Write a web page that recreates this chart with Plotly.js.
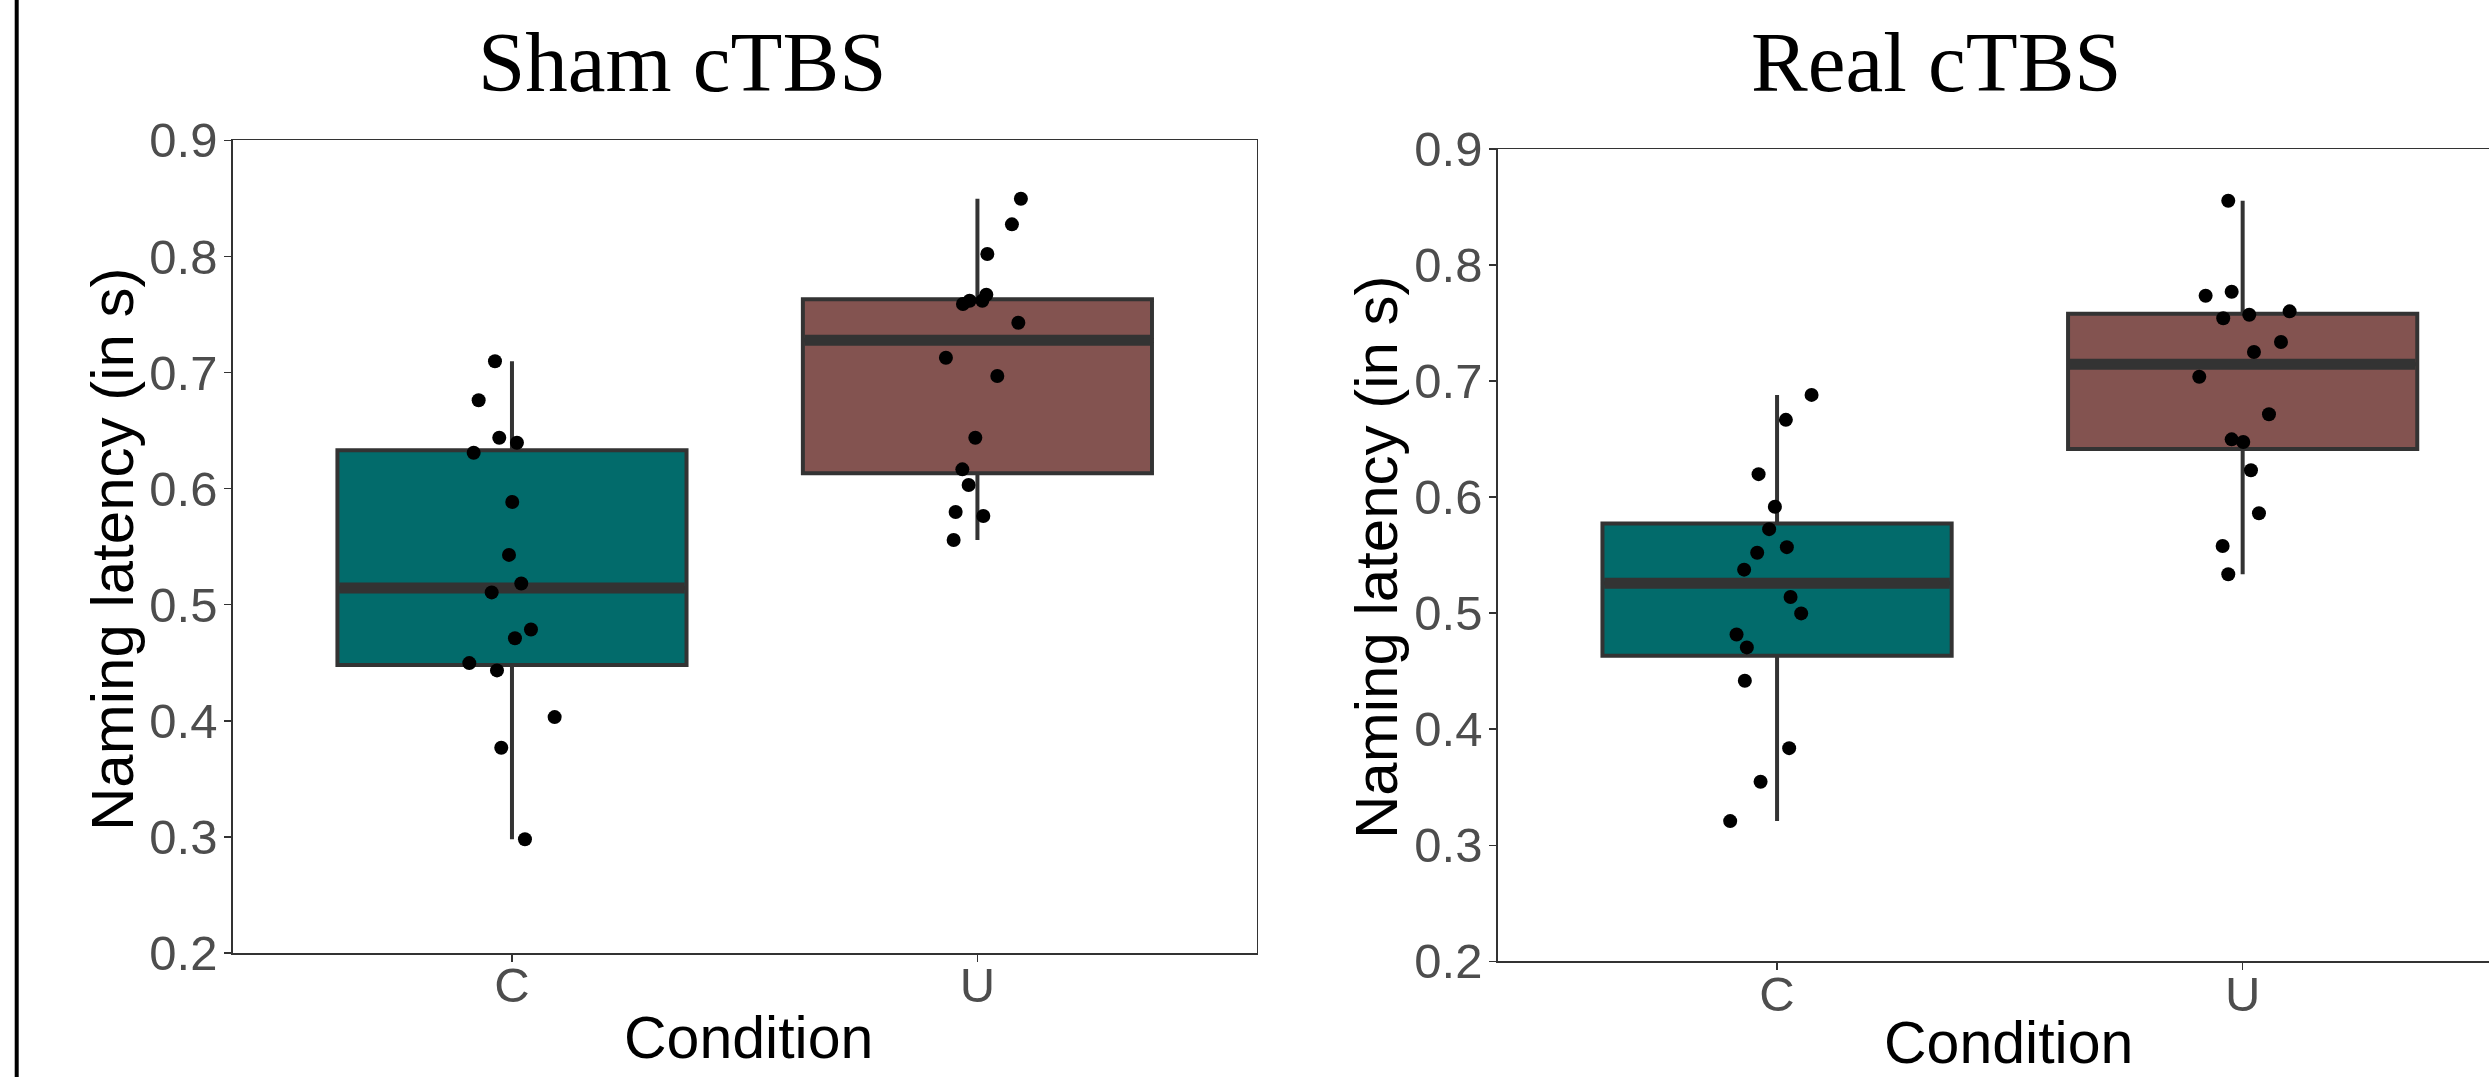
<!DOCTYPE html>
<html>
<head>
<meta charset="utf-8">
<script src="https://cdn.plot.ly/plotly-3.0.1.min.js"></script>
<style>
html,body{margin:0;padding:0;background:#fff;}
#chart{width:2489px;height:1077px;}
</style>
</head>
<body>
<div id="chart"></div>
<script>
// ---- data ----
const categories = ['C', 'U'];
const panelTitles = ['Sham cTBS', 'Real cTBS'];
const yTicks = [0.2, 0.3, 0.4, 0.5, 0.6, 0.7, 0.8, 0.9];

const shamC = [0.7097,0.6761,0.6438,0.6395,0.6309,0.5885,0.5429,0.5182,0.5106,0.4786,0.4711,0.4497,0.4434,0.4032,0.3768,0.2980];
const shamCJitter = [-0.0365,-0.0716,-0.0273,0.0107,-0.0823,0.0006,-0.0064,0.0200,-0.0436,0.0408,0.0064,-0.0917,-0.0322,0.0917,-0.0230,0.0279];
const shamU = [0.8497,0.8276,0.8021,0.7670,0.7618,0.7618,0.7590,0.7429,0.7127,0.6970,0.6438,0.6166,0.6031,0.5798,0.5764,0.5557];
const shamUJitter = [0.0934,0.0741,0.0213,0.0191,0.0105,-0.0168,-0.0311,0.0879,-0.0677,0.0427,-0.0045,-0.0324,-0.0189,-0.0468,0.0127,-0.0511];
const realC = [0.6881,0.6666,0.6198,0.5917,0.5724,0.5569,0.5521,0.5375,0.5140,0.4998,0.4816,0.4705,0.4417,0.3837,0.3547,0.3208];
const realCJitter = [0.0741,0.0189,-0.0397,-0.0047,-0.0170,0.0210,-0.0427,-0.0707,0.0290,0.0518,-0.0870,-0.0649,-0.0692,0.0260,-0.0354,-0.1007];
const realU = [0.8554,0.7736,0.7770,0.7541,0.7572,0.7601,0.7337,0.7251,0.7038,0.6714,0.6498,0.6475,0.6231,0.5861,0.5579,0.5335];
const realUJitter = [-0.0309,-0.0795,-0.0236,-0.0417,0.0142,0.1009,0.0823,0.0243,-0.0932,0.0565,-0.0236,0.0013,0.0178,0.0350,-0.0430,-0.0309];

const fillColors = ['#026B6B', '#835350'];

// ---- helpers ----
function quantile7(arr, p) {
  const s = arr.slice().sort((a, b) => a - b);
  const h = (s.length - 1) * p;
  const lo = Math.floor(h);
  const hi = Math.min(lo + 1, s.length - 1);
  return s[lo] + (h - lo) * (s[hi] - s[lo]);
}
function boxStats(arr) {
  const q1 = quantile7(arr, 0.25), med = quantile7(arr, 0.5), q3 = quantile7(arr, 0.75);
  const iqr = q3 - q1;
  const lf = Math.min(...arr.filter(v => v >= q1 - 1.5 * iqr));
  const uf = Math.max(...arr.filter(v => v <= q3 + 1.5 * iqr));
  return {q1, med, q3, lf, uf};
}

const boxWidth = 0.75;
const panels = [
  {series: [shamC, shamU], jitters: [shamCJitter, shamUJitter], xa: 'x', ya: 'y'},
  {series: [realC, realU], jitters: [realCJitter, realUJitter], xa: 'x2', ya: 'y2'}
];

const traces = [];
panels.forEach(p => {
  p.series.forEach((vals, i) => {
    const pos = i + 1;
    const st = boxStats(vals);
    traces.push({
      type: 'box', xaxis: p.xa, yaxis: p.ya,
      x: [pos], q1: [st.q1], median: [st.med], q3: [st.q3],
      lowerfence: [st.lf], upperfence: [st.uf],
      width: boxWidth, whiskerwidth: 0,
      fillcolor: fillColors[i],
      line: {color: '#333333', width: 4},
      hoverinfo: 'skip'
    });
    // thick median line (ggplot style)
    traces.push({
      type: 'scatter', mode: 'lines', xaxis: p.xa, yaxis: p.ya,
      x: [pos - boxWidth / 2 + 0.004, pos + boxWidth / 2 - 0.004], y: [st.med, st.med],
      line: {color: '#333333', width: 11}, hoverinfo: 'skip'
    });
  });
  p.series.forEach((vals, i) => {
    const pos = i + 1;
    traces.push({
      type: 'scatter', mode: 'markers', xaxis: p.xa, yaxis: p.ya,
      x: vals.map((v, k) => pos + p.jitters[i][k]), y: vals,
      marker: {color: '#000000', size: 14}, hoverinfo: 'skip'
    });
  });
});

const W = 2489, H = 1077;
const sans = 'Liberation Sans, Arial, sans-serif';
const serif = 'Liberation Serif, Times New Roman, serif';

function xAxis(domain, range) {
  return {
    domain: domain, range: range, tickvals: [1, 2], ticktext: categories,
    ticks: 'outside', ticklen: 7, tickwidth: 1.5, tickcolor: '#333333',
    ticklabelstandoff: -18,
    showline: true, linecolor: '#333333', linewidth: 1.5, mirror: true,
    showgrid: false, zeroline: false,
    tickfont: {family: sans, size: 49, color: '#4D4D4D'}
  };
}
function yAxis(domain, anchor, mirror) {
  return {
    domain: domain, anchor: anchor, range: [0.2, 0.9], tickvals: yTicks, tickformat: '.1f',
    ticks: 'outside', ticklen: 7, tickwidth: 1.5, tickcolor: '#333333',
    ticklabelstandoff: -3,
    showline: true, linecolor: '#333333', linewidth: 1.5, mirror: mirror,
    showgrid: false, zeroline: false,
    tickfont: {family: sans, size: 49, color: '#4D4D4D'}
  };
}

const layout = {
  width: W, height: H,
  margin: {l: 0, r: 0, t: 0, b: 0},
  paper_bgcolor: '#ffffff', plot_bgcolor: '#ffffff',
  showlegend: false,
  xaxis: xAxis([232.7 / W, 1256.7 / W], [0.4, 2.6]),
  yaxis: yAxis([1 - 953 / H, 1 - 140.3 / H], 'x', true),
  xaxis2: Object.assign(xAxis([1497.7 / W, 1], [0.4, 0.4 + (W - 1497.7) / 465.6]), {anchor: 'y2'}),
  yaxis2: yAxis([1 - 961.3 / H, 1 - 149 / H], 'x2', false),
  shapes: [
    {type: 'line', xref: 'paper', yref: 'paper', x0: 16.7 / W, x1: 16.7 / W, y0: 0, y1: 1,
     line: {color: '#000000', width: 4}}
  ],
  annotations: [
    {text: panelTitles[0], xref: 'paper', yref: 'paper', x: 682 / W, y: 1 - 62 / H,
     xanchor: 'center', yanchor: 'middle', showarrow: false,
     font: {family: serif, size: 85, color: '#000000'}},
    {text: panelTitles[1], xref: 'paper', yref: 'paper', x: 1937 / W, y: 1 - 62 / H,
     xanchor: 'center', yanchor: 'middle', showarrow: false,
     font: {family: serif, size: 85, color: '#000000'}},
    {text: 'Naming latency (in s)', xref: 'paper', yref: 'paper', x: 112 / W, y: 1 - 549 / H,
     xanchor: 'center', yanchor: 'middle', textangle: -90, showarrow: false,
     font: {family: sans, size: 60, color: '#000000'}},
    {text: 'Naming latency (in s)', xref: 'paper', yref: 'paper', x: 1376 / W, y: 1 - 557 / H,
     xanchor: 'center', yanchor: 'middle', textangle: -90, showarrow: false,
     font: {family: sans, size: 60, color: '#000000'}},
    {text: 'Condition', xref: 'paper', yref: 'paper', x: 748 / W, y: 1 - 1038 / H,
     xanchor: 'center', yanchor: 'middle', showarrow: false,
     font: {family: sans, size: 59, color: '#000000'}},
    {text: 'Condition', xref: 'paper', yref: 'paper', x: 2008.5 / W, y: 1 - 1043 / H,
     xanchor: 'center', yanchor: 'middle', showarrow: false,
     font: {family: sans, size: 59, color: '#000000'}}
  ]
};

Plotly.newPlot('chart', traces, layout, {staticPlot: true, displayModeBar: false});
</script>
</body>
</html>
